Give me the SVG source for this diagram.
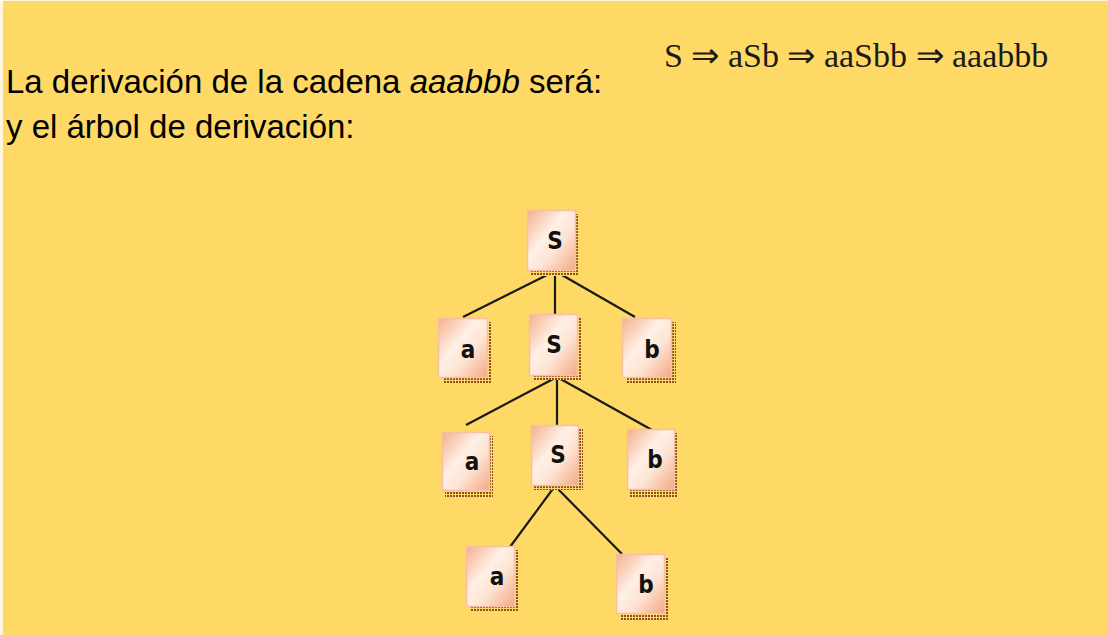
<svg xmlns="http://www.w3.org/2000/svg" width="1108" height="635" viewBox="0 0 1108 635">
<defs>
<linearGradient id="g" x1="0" y1="0" x2="1" y2="1">
<stop offset="0" stop-color="#F5B08C"/>
<stop offset="0.4" stop-color="#FFF0E6"/>
<stop offset="0.62" stop-color="#FEE4D4"/>
<stop offset="1" stop-color="#F3A882"/>
</linearGradient>
<pattern id="dots" width="3" height="3" patternUnits="userSpaceOnUse">
<rect width="3" height="3" fill="#FED966"/>
<rect x="0" y="0" width="2" height="2" fill="#8E4F22"/>
</pattern>
</defs>
<style>
.bg{fill:#FED966}
.box{fill:url(#g);stroke:#F8C0A2;stroke-width:1.5}
.sh{fill:url(#dots)}
.lbl{font-family:"DejaVu Sans Condensed","DejaVu Sans",sans-serif;font-weight:bold;font-size:24px;fill:#111;text-anchor:middle}
.txt{font-family:"Liberation Sans",Arial,sans-serif;font-size:33px;fill:#000}
.eq{font-family:"Liberation Serif","Times New Roman",serif;font-size:34px;fill:#1a1a1a}
.edge{stroke:#1a1a1a;stroke-width:2.2;fill:none}
</style>
<rect width="1108" height="635" fill="#FFF6DC"/>
<rect class="bg" x="3" y="1" width="1105" height="634"/>
<text class="txt" x="6" y="93">La derivación de la cadena <tspan font-style="italic">aaabbb</tspan> será:</text>
<text class="txt" x="6" y="138">y el árbol de derivación:</text>
<text class="eq" x="664" y="67">S ⇒ aSb ⇒ aaSbb ⇒ aaabbb</text>
<g id="edges">
<line class="edge" x1="555" y1="271" x2="463" y2="317"/>
<line class="edge" x1="555" y1="271" x2="555" y2="315"/>
<line class="edge" x1="555" y1="271" x2="635" y2="317"/>
<line class="edge" x1="557" y1="377" x2="466" y2="425"/>
<line class="edge" x1="557" y1="377" x2="557" y2="425"/>
<line class="edge" x1="557" y1="377" x2="652" y2="430"/>
<line class="edge" x1="555" y1="486" x2="510" y2="547"/>
<line class="edge" x1="555" y1="486" x2="622" y2="554"/>
</g>
<g id="n_root">
<rect class="sh" x="531" y="214" width="48" height="62"/>
<rect class="box" x="527.5" y="210.5" width="48" height="60"/>
<text class="lbl" x="555" y="249">S</text>
</g>
<g id="n_a1">
<rect class="sh" x="443" y="322" width="49" height="62"/>
<rect class="box" x="438.5" y="318.5" width="49" height="59"/>
<text class="lbl" x="468" y="358">a</text>
</g>
<g id="n_s1">
<rect class="sh" x="533" y="318" width="49" height="62"/>
<rect class="box" x="529.5" y="314.5" width="48" height="61"/>
<text class="lbl" x="554" y="353">S</text>
</g>
<g id="n_b1">
<rect class="sh" x="626" y="322" width="50" height="62"/>
<rect class="box" x="622.5" y="318.5" width="49" height="59"/>
<text class="lbl" x="652" y="358">b</text>
</g>
<g id="n_a2">
<rect class="sh" x="445" y="436" width="48" height="61"/>
<rect class="box" x="442.5" y="432.5" width="47" height="58"/>
<text class="lbl" x="472" y="470">a</text>
</g>
<g id="n_s2">
<rect class="sh" x="534" y="429" width="49" height="61"/>
<rect class="box" x="531.5" y="425.5" width="47" height="60"/>
<text class="lbl" x="558" y="463">S</text>
</g>
<g id="n_b2">
<rect class="sh" x="629" y="433" width="48" height="64"/>
<rect class="box" x="627.5" y="429.5" width="47" height="60"/>
<text class="lbl" x="655" y="468">b</text>
</g>
<g id="n_a3">
<rect class="sh" x="470" y="550" width="48" height="62"/>
<rect class="box" x="466.5" y="546.5" width="48" height="60"/>
<text class="lbl" x="497" y="585">a</text>
</g>
<g id="n_b3">
<rect class="sh" x="620" y="558" width="48" height="62"/>
<rect class="box" x="616.5" y="554.5" width="48" height="59"/>
<text class="lbl" x="646" y="593">b</text>
</g>
</svg>
